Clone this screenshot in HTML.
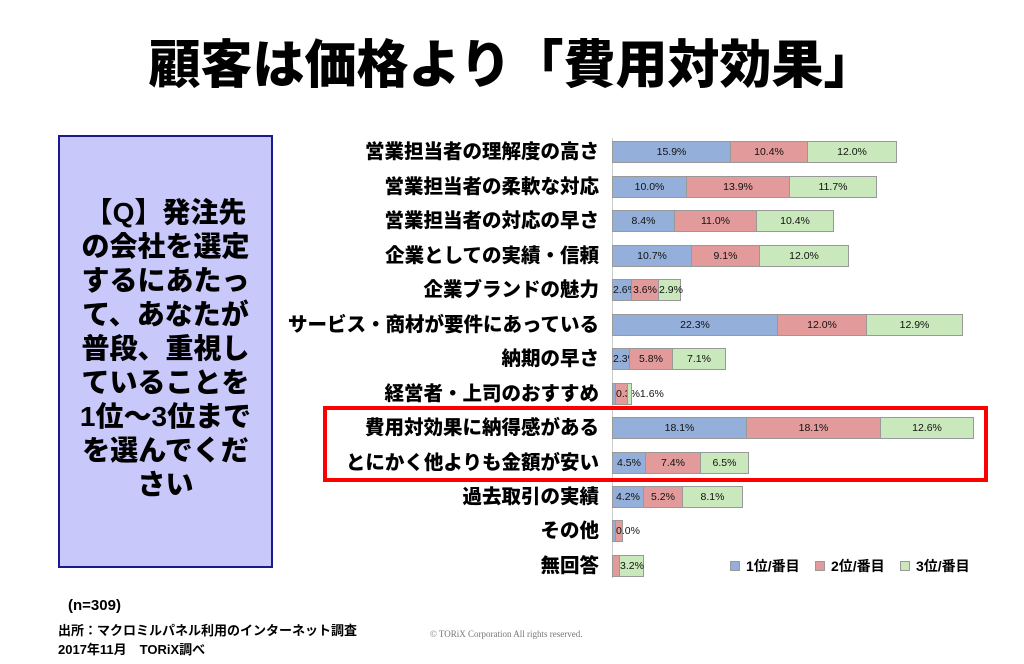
<!DOCTYPE html>
<html><head><meta charset="utf-8"><style>
body{margin:0;width:1024px;height:664px;background:#fff;position:relative;overflow:hidden;font-family:"Liberation Sans","Noto Sans CJK JP",sans-serif;}
.t{position:absolute;left:0;width:1024px;top:34px;text-align:center;font-size:52px;font-weight:900;color:#000;line-height:64px;}
.box{position:absolute;left:58px;top:135px;width:211px;height:429px;background:#c8c8fa;border:2px solid #1a1a8a;}
.q{position:absolute;left:60px;top:196px;width:211px;text-align:center;font-size:28px;font-weight:900;line-height:34px;}
.lab{position:absolute;right:425px;font-size:19.5px;font-weight:900;white-space:nowrap;line-height:22px;}
.row{position:absolute;left:613px;height:22px;display:flex;}
.row div{height:20px;border:1px solid #999;box-sizing:content-box;font-size:10.5px;line-height:20px;text-align:center;color:#111;white-space:nowrap;overflow:visible;margin-left:-1px}
.a{background:#94afd9}.b{background:#e39a9a}.c{background:#c9e8bb}
.axis{position:absolute;left:612px;top:138px;width:1px;height:440px;background:#ccc;}
.red{position:absolute;left:323px;top:406px;width:657px;height:68px;border:4px solid #f00;}
.leg{position:absolute;top:556px;font-size:14px;font-weight:bold;}
.leg span{display:inline-block;width:8px;height:8px;margin-right:6px;border:1px solid #999}
.ft{position:absolute;left:58px;font-weight:bold;font-size:13px;}
</style></head><body>
<div class="t">顧客は価格より「費用対効果」</div>
<div class="box"></div>
<div class="q">【Q】発注先<br>の会社を選定<br>するにあたっ<br>て、あなたが<br>普段、重視し<br>ていることを<br>1位～3位まで<br>を選んでくだ<br>さい</div>
<div class="axis"></div>

<div class="lab" style="top:141px">営業担当者の理解度の高さ</div>
<div class="row" style="top:141px"><div class="a" style="width:117px">15.9%</div><div class="b" style="width:76px">10.4%</div><div class="c" style="width:88px">12.0%</div></div>
<div class="lab" style="top:176px">営業担当者の柔軟な対応</div>
<div class="row" style="top:176px"><div class="a" style="width:73px">10.0%</div><div class="b" style="width:102px">13.9%</div><div class="c" style="width:86px">11.7%</div></div>
<div class="lab" style="top:210px">営業担当者の対応の早さ</div>
<div class="row" style="top:210px"><div class="a" style="width:61px">8.4%</div><div class="b" style="width:81px">11.0%</div><div class="c" style="width:76px">10.4%</div></div>
<div class="lab" style="top:245px">企業としての実績・信頼</div>
<div class="row" style="top:245px"><div class="a" style="width:78px">10.7%</div><div class="b" style="width:67px">9.1%</div><div class="c" style="width:88px">12.0%</div></div>
<div class="lab" style="top:279px">企業ブランドの魅力</div>
<div class="row" style="top:279px"><div class="a" style="width:18px">2.6%</div><div class="b" style="width:26px">3.6%</div><div class="c" style="width:21px">2.9%</div></div>
<div class="lab" style="top:314px">サービス・商材が要件にあっている</div>
<div class="row" style="top:314px"><div class="a" style="width:164px">22.3%</div><div class="b" style="width:88px">12.0%</div><div class="c" style="width:95px">12.9%</div></div>
<div class="lab" style="top:348px">納期の早さ</div>
<div class="row" style="top:348px"><div class="a" style="width:16px">2.3%</div><div class="b" style="width:42px">5.8%</div><div class="c" style="width:52px">7.1%</div></div>
<div class="lab" style="top:383px">経営者・上司のおすすめ</div>
<div class="row" style="top:383px"><div class="a" style="width:2px"></div><div class="b" style="width:11px">0.3%1.6%</div><div class="c" style="width:3px"></div></div>
<div class="lab" style="top:417px">費用対効果に納得感がある</div>
<div class="row" style="top:417px"><div class="a" style="width:133px">18.1%</div><div class="b" style="width:133px">18.1%</div><div class="c" style="width:92px">12.6%</div></div>
<div class="lab" style="top:452px">とにかく他よりも金額が安い</div>
<div class="row" style="top:452px"><div class="a" style="width:32px">4.5%</div><div class="b" style="width:54px">7.4%</div><div class="c" style="width:47px">6.5%</div></div>
<div class="lab" style="top:486px">過去取引の実績</div>
<div class="row" style="top:486px"><div class="a" style="width:30px">4.2%</div><div class="b" style="width:38px">5.2%</div><div class="c" style="width:59px">8.1%</div></div>
<div class="lab" style="top:520px">その他</div>
<div class="row" style="top:520px"><div class="a" style="width:2px"></div><div class="b" style="width:6px">0.0%</div></div>
<div class="lab" style="top:555px">無回答</div>
<div class="row" style="top:555px"><div class="b" style="width:6px"></div><div class="c" style="width:23px">3.2%</div></div>

<div class="red"></div>
<div class="leg" style="left:730px"><span class="a"></span>1位/番目</div>
<div class="leg" style="left:815px"><span class="b"></span>2位/番目</div>
<div class="leg" style="left:900px"><span class="c"></span>3位/番目</div>

<div class="ft" style="top:597px;left:68px;font-size:15px">(n=309)</div>
<div class="ft" style="top:620px">出所：マクロミルパネル利用のインターネット調査</div>
<div class="ft" style="top:639px">2017年11月　TORiX調べ</div>
<div style="position:absolute;left:430px;top:629px;font-size:9px;color:#777;font-family:'Liberation Serif',serif">© TORiX Corporation All rights reserved.</div>
</body></html>
